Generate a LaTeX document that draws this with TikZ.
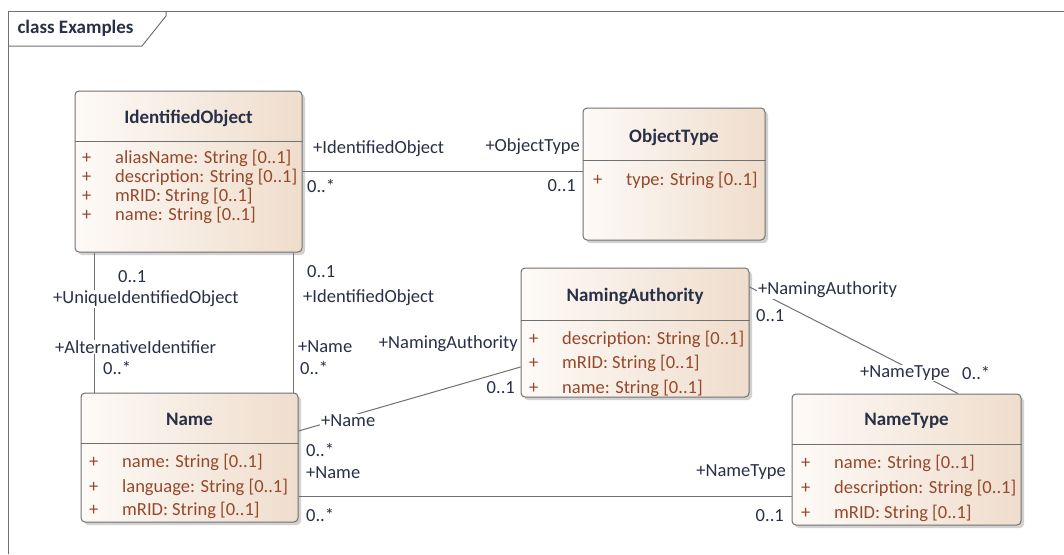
\documentclass[tikz,border=0pt]{standalone}
\usepackage{fontspec}
\setmainfont{Carlito}
\usetikzlibrary{shadows}

\definecolor{clsborder}{RGB}{112,112,112}
\definecolor{clsleft}{RGB}{253,250,247}
\definecolor{clsright}{RGB}{239,221,204}
\definecolor{attrtext}{RGB}{150,72,42}
\definecolor{roletext}{RGB}{40,48,72}

\newcommand{\pub}{\makebox[33pt][l]{+}}

\tikzset{
  cls/.style={draw=clsborder, line width=1pt, rounded corners=4pt,
    left color=clsleft, right color=clsright, inner sep=0pt,
    drop shadow={shadow xshift=3pt, shadow yshift=-3pt, fill=black!35, opacity=0.5}},
  clstitle/.style={font=\bfseries\fontsize{19}{22}\selectfont, text=roletext, inner sep=0pt},
  attr/.style={anchor=west, font=\fontsize{18.5}{22}\selectfont, text=attrtext, inner sep=0pt},
  role/.style={fill=white, inner sep=1pt, font=\fontsize{18.5}{22}\selectfont, text=roletext},
  assoc/.style={draw=clsborder, line width=1pt},
}

\begin{document}
\begin{tikzpicture}[x=1pt, y=-1pt]
    \useasboundingbox (0,0) rectangle (1064,554);

    % frame
    \draw[clsborder, line width=1pt] (1064,11) -- (8,11) -- (8,554);
    \draw[clsborder, line width=1pt] (8,46) -- (142,46) -- (166,16) -- (166,11);
    \node[anchor=west, font=\bfseries\fontsize{19}{22}\selectfont, text=roletext] (frame) at (14,28) {class Examples};

    % classes
    \node[cls, minimum width=227pt, minimum height=161pt] (io) at (188.5,171.5) {};
    \node[cls, minimum width=182pt, minimum height=132pt] (ot) at (674,174) {};
    \node[cls, minimum width=228pt, minimum height=129pt] (na) at (635,332.5) {};
    \node[cls, minimum width=229pt, minimum height=131pt] (nt) at (906.5,459.5) {};
    \node[cls, minimum width=217pt, minimum height=129pt] (nm) at (189.5,457.5) {};

    \draw[clsborder, line width=1pt] (io.west |- 0,141) -- (io.east |- 0,141);
    \draw[clsborder, line width=1pt] (ot.west |- 0,160) -- (ot.east |- 0,160);
    \draw[clsborder, line width=1pt] (na.west |- 0,320) -- (na.east |- 0,320);
    \draw[clsborder, line width=1pt] (nt.west |- 0,444) -- (nt.east |- 0,444);
    \draw[clsborder, line width=1pt] (nm.west |- 0,443) -- (nm.east |- 0,443);

    \node[clstitle] (io-title) at (188.5,118) {IdentifiedObject};
    \node[clstitle] (ot-title) at (674,137) {ObjectType};
    \node[clstitle] (na-title) at (635,296) {NamingAuthority};
    \node[clstitle] (nt-title) at (906.5,421) {NameType};
    \node[clstitle] (nm-title) at (189.5,419) {Name};

    \node[attr] (io-a1) at (82,158) {\pub aliasName: String [0..1]};
    \node[attr] (io-a2) at (82,177) {\pub description: String [0..1]};
    \node[attr] (io-a3) at (82,196) {\pub mRID: String [0..1]};
    \node[attr] (io-a4) at (82,215) {\pub name: String [0..1]};

    \node[attr] (ot-a1) at (593,180) {\pub type: String [0..1]};

    \node[attr] (na-a1) at (529,339) {\pub description: String [0..1]};
    \node[attr] (na-a2) at (529,363) {\pub mRID: String [0..1]};
    \node[attr] (na-a3) at (529,388) {\pub name: String [0..1]};

    \node[attr] (nt-a1) at (801,463) {\pub name: String [0..1]};
    \node[attr] (nt-a2) at (801,488) {\pub description: String [0..1]};
    \node[attr] (nt-a3) at (801,513) {\pub mRID: String [0..1]};

    \node[attr] (nm-a1) at (89,462) {\pub name: String [0..1]};
    \node[attr] (nm-a2) at (89,487) {\pub language: String [0..1]};
    \node[attr] (nm-a3) at (89,510) {\pub mRID: String [0..1]};

    % associations
    \draw[assoc] (io.east) -- (io.east -| ot.west);
    \draw[assoc] ([xshift=20pt]io.south west) -- ([xshift=14pt]nm.north west);
    \draw[assoc] ([xshift=-9pt]io.south east) -- ([xshift=-5pt]nm.north east);
    \draw[assoc] ([yshift=26.5pt]nm.east) -- ([yshift=-34.5pt]na.west);
    \draw[assoc] ([yshift=-38.5pt]nm.east) -- ([yshift=-38.5pt]nm.east -| nt.west);
    \draw[assoc] ([yshift=45.5pt]na.east) -- ([xshift=51.5pt]nt.north);

    % roles and multiplicities
    \node[role, anchor=west] (r1) at (312,149) {+IdentifiedObject};
    \node[role, anchor=east] (r2) at (581,147) {+ObjectType};
    \node[role, anchor=west] (m1) at (306,186) {0..*};
    \node[role, anchor=east] (m2) at (577,186) {0..1};

    \node[role, anchor=west] (m3) at (117,277) {0..1};
    \node[role, anchor=west] (r3) at (52,299) {+UniqueIdentifiedObject};
    \node[role, anchor=west] (r4) at (54,347) {+AlternativeIdentifier};
    \node[role, anchor=west] (m4) at (102,368) {0..*};

    \node[role, anchor=west] (m5) at (306,272) {0..1};
    \node[role, anchor=west] (r5) at (302,298) {+IdentifiedObject};
    \node[role, anchor=west] (r6) at (297,347) {+Name};
    \node[role, anchor=west] (m6) at (299,368) {0..*};

    \node[role, anchor=east] (r7) at (519,344) {+NamingAuthority};
    \node[role, anchor=east] (m7) at (516,388) {0..1};
    \node[role, anchor=west] (r8) at (320,421) {+Name};
    \node[role, anchor=west] (m8) at (305,450) {0..*};

    \node[role, anchor=west] (r9) at (305,473) {+Name};
    \node[role, anchor=west] (m9) at (305,515) {0..*};
    \node[role, anchor=east] (r10) at (787,472) {+NameType};
    \node[role, anchor=east] (m10) at (785,516) {0..1};

    \node[role, anchor=west] (r11) at (757,290) {+NamingAuthority};
    \node[role, anchor=west] (m11) at (755,316) {0..1};
    \node[role, anchor=west] (r12) at (859,373) {+NameType};
    \node[role, anchor=west] (m12) at (961,373) {0..*};
\end{tikzpicture}
\end{document}
